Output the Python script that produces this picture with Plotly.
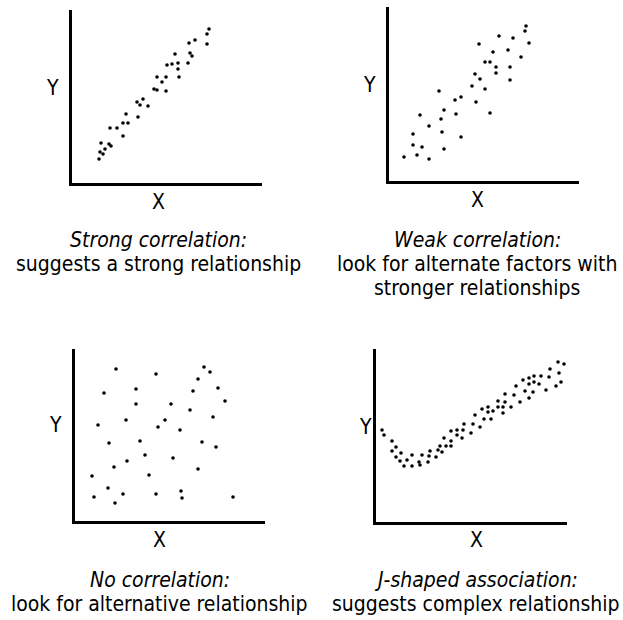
import plotly.graph_objects as go

# ---- data: four scatter patterns (x, y in plot units) ----
strong_x = [137, 135, 135, 123, 117, 118, 120, 103, 116, 106, 100, 95, 106, 107, 85, 94, 90, 82, 85, 94,
            71, 65, 68, 76, 66, 54, 51, 56, 45, 38, 51, 29, 37, 39, 33, 28, 31, 27]
strong_y = [154, 149, 139, 143, 140, 130, 127, 129, 120, 120, 119, 118, 114, 106, 106, 106, 101, 94, 93, 92,
            84, 81, 78, 77, 66, 69, 60, 60, 55, 55, 47, 40, 39, 37, 34, 31, 29, 24]

weak_x = [137, 136, 140, 110, 124, 90, 104, 119, 132, 96, 101, 107, 121, 107, 121, 86, 91, 83, 96, 50,
          72, 66, 87, 55, 67, 101, 31, 52, 40, 53, 24, 72, 24, 33, 55, 28, 15, 40]
weak_y = [155, 150, 138, 145, 143, 137, 129, 131, 124, 119, 119, 114, 114, 108, 101, 107, 102, 95, 92, 90,
          84, 81, 79, 71, 67, 68, 66, 62, 55, 49, 47, 44, 36, 34, 32, 26, 24, 22]

none_x = [41, 81, 129, 135, 123, 29, 61, 118, 143, 150, 61, 96, 115, 138, 51, 90, 23, 83, 105, 34,
          65, 127, 141, 70, 98, 52, 39, 123, 17, 74, 33, 48, 81, 106, 19, 107, 158, 40]
none_y = [152, 147, 154, 149, 142, 128, 132, 130, 133, 120, 117, 117, 111, 104, 101, 101, 96, 94, 91, 78,
          80, 79, 74, 66, 63, 60, 54, 52, 45, 46, 33, 27, 27, 30, 24, 23, 24, 18]

j_x = [182, 188, 193, 174, 183, 192, 185, 180, 170, 173, 165, 158, 153, 147, 158, 153, 163, 140, 149, 157,
       153, 144, 138, 129, 135, 129, 127, 122, 122, 127, 117, 112, 112, 106, 99, 115, 108, 97, 88, 104,
       95, 87, 81, 75, 81, 86, 75, 68, 70, 75, 64, 62, 66, 54, 60, 53, 52, 46, 43, 44,
       36, 36, 31, 28, 25, 24, 20, 20, 16, 16, 8, 6]
j_y = [160, 158, 158, 153, 149, 142, 140, 136, 132, 145, 146, 146, 144, 142, 140, 138, 138, 136, 131, 130,
       124, 120, 127, 128, 115, 120, 115, 121, 115, 109, 111, 115, 110, 113, 107, 103, 103, 98, 98, 95,
       89, 92, 92, 91, 87, 84, 81, 84, 76, 76, 76, 72, 70, 71, 65, 66, 60, 67, 60, 57,
       67, 56, 62, 56, 69, 61, 75, 65, 81, 71, 87, 92]

captions = [
    ("Strong correlation:", ["suggests a strong relationship"]),
    ("Weak correlation:", ["look for alternate factors with", "stronger relationships"]),
    ("No correlation:", ["look for alternative relationship"]),
    ("J-shaped association:", ["suggests complex relationship"]),
]

W_PX, H_PX = 623, 620
FONT = "Liberation Sans Narrow, DejaVu Sans Condensed, Liberation Sans, sans-serif"

# panel boxes in pixels: left, right, top, bottom
panels = [
    (72, 262, 10, 183),
    (389, 579, 7, 181),
    (75, 265, 349, 521),
    (376, 567, 349, 522),
]
series = [(strong_x, strong_y), (weak_x, weak_y), (none_x, none_y), (j_x, j_y)]
label_pos = [
    # (Y label x,y), (X label x,y), caption centre x, caption first-line y
    ((52, 88), (158, 202), 158, 240),
    ((369, 85), (477, 200), 477, 240),
    ((55, 425), (160, 540), 160, 580),
    ((365, 427), (476, 540), 476, 580),
]


def fx(px):
    return px / W_PX


def fy(py):
    return 1 - py / H_PX


fig = go.Figure()
annotations = []
for i, ((xs, ys), (l, r, t, b)) in enumerate(zip(series, panels)):
    n = i + 1
    xa = "x" if n == 1 else f"x{n}"
    ya = "y" if n == 1 else f"y{n}"
    fig.add_trace(go.Scatter(
        x=xs, y=ys, mode="markers", xaxis=xa, yaxis=ya, cliponaxis=False,
        marker=dict(color="black", size=3.6), showlegend=False, hoverinfo="skip",
    ))
    axis_common = dict(showline=True, linewidth=3, linecolor="black", showgrid=False,
                       zeroline=False, showticklabels=False, ticks="", fixedrange=True)
    fig.layout[f"xaxis{'' if n == 1 else n}"] = dict(
        domain=[fx(l), fx(r)], range=[0, r - l], anchor=ya, **axis_common)
    fig.layout[f"yaxis{'' if n == 1 else n}"] = dict(
        domain=[fy(b), fy(t)], range=[0, b - t], anchor=xa, **axis_common)

    (ylx, yly), (xlx, xly), cx, cy = label_pos[i]
    title, lines = captions[i]
    annotations.append(dict(x=fx(ylx), y=fy(yly), text="Y"))
    annotations.append(dict(x=fx(xlx), y=fy(xly), text="X"))
    annotations.append(dict(x=fx(cx), y=fy(cy), text=f"<i>{title}</i>"))
    for k, line in enumerate(lines):
        annotations.append(dict(x=fx(cx), y=fy(cy + 24 * (k + 1)), text=line))

for a in annotations:
    a.update(xref="paper", yref="paper", showarrow=False, xanchor="center", yanchor="middle",
             font=dict(family=FONT, size=21, color="black"))

fig.update_layout(
    width=W_PX, height=H_PX, margin=dict(l=0, r=0, t=0, b=0),
    paper_bgcolor="white", plot_bgcolor="white", annotations=annotations,
)

fig.write_html("out.html", config={"displayModeBar": False})
